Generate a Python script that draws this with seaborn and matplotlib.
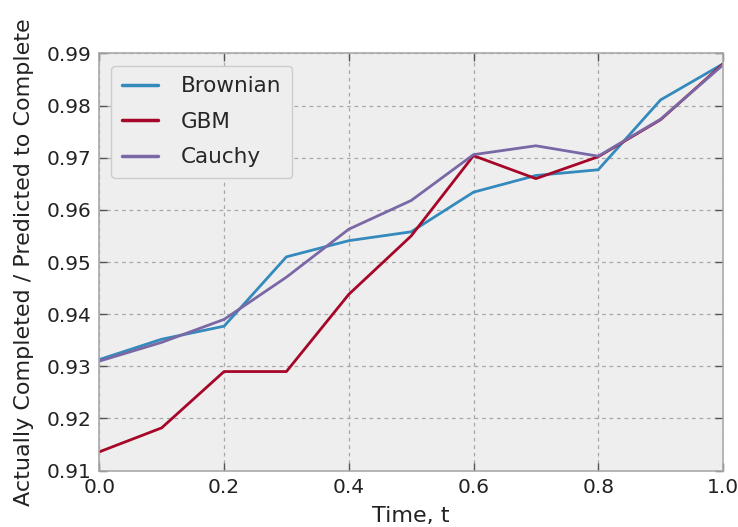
import numpy as np
import pandas as pd
import seaborn as sns
import matplotlib
matplotlib.use("Agg")
from matplotlib import pyplot as plt

# values
t = [0.0, 0.1, 0.2, 0.3, 0.4, 0.5, 0.6, 0.7, 0.8, 0.9, 1.0]
brownian = [0.9313, 0.9352, 0.9377, 0.9510, 0.9541, 0.9558, 0.9634, 0.9666, 0.9677, 0.9811, 0.9880]
gbm = [0.9136, 0.9182, 0.9290, 0.9290, 0.9438, 0.9550, 0.9704, 0.9660, 0.9702, 0.9773, 0.9880]
cauchy = [0.9310, 0.9346, 0.9390, 0.9471, 0.9563, 0.9618, 0.9706, 0.9723, 0.9703, 0.9774, 0.9878]

series_names = ["Brownian", "GBM", "Cauchy"]
colors = ["#348ABD", "#A60628", "#7A68A6"]

xticks = [0.0, 0.2, 0.4, 0.6, 0.8, 1.0]
yticks = [0.91, 0.92, 0.93, 0.94, 0.95, 0.96, 0.97, 0.98, 0.99]

df = pd.DataFrame({
    "t": t * 3,
    "value": brownian + gbm + cauchy,
    "model": [n for n in series_names for _ in t],
})

sns.set_style("darkgrid", {
    "axes.facecolor": "#eeeeee",
    "axes.edgecolor": "#aaaaaa",
    "xtick.direction": "in",
    "ytick.direction": "in",
    "xtick.bottom": True,
    "xtick.top": True,
    "ytick.left": True,
    "ytick.right": True,
})
plt.rcParams["font.family"] = ["DejaVu Sans"]

fig = plt.figure(figsize=(7.38, 5.27), dpi=100)
ax = fig.add_axes([0.1346, 0.107, 0.845, 0.7915])

sns.lineplot(data=df, x="t", y="value", hue="model", hue_order=series_names,
             palette=colors, linewidth=2, ax=ax, legend=True)

ax.set_xlim(0.0, 1.0)
ax.set_ylim(0.91, 0.99)
ax.set_xticks(xticks)
ax.set_yticks(yticks)
ax.set_xticklabels([f"{v:.1f}" for v in xticks])
ax.set_yticklabels([f"{v:.2f}" for v in yticks])
ax.grid(True, color="#a8a8a8", linestyle=(0, (3, 3)), linewidth=0.9)
ax.tick_params(axis="both", which="major", labelsize=14.5, length=6,
               width=1, color="#555555", labelcolor="#222222")
ax.tick_params(axis="y", pad=5.5)
ax.tick_params(axis="x", pad=5)
for s in ax.spines.values():
    s.set_color("#aaaaaa")
    s.set_linewidth(1.2)

ax.set_xlabel("Time, t", fontsize=16, color="#222222", labelpad=6.5)
ax.set_ylabel("Actually Completed / Predicted to Complete", fontsize=16,
              color="#222222", labelpad=9)

leg = ax.legend(loc="upper left", bbox_to_anchor=(0, 1), fontsize=15.5,
                handlelength=1.67, handletextpad=1.07, borderpad=0.5,
                labelspacing=0.72, borderaxespad=0.56,
                frameon=True, facecolor="#eeeeee", edgecolor="#cccccc",
                fancybox=True)
leg.get_frame().set_alpha(1.0)
for line in leg.get_lines():
    line.set_linewidth(2.5)

fig.savefig("out.png", dpi=100)
